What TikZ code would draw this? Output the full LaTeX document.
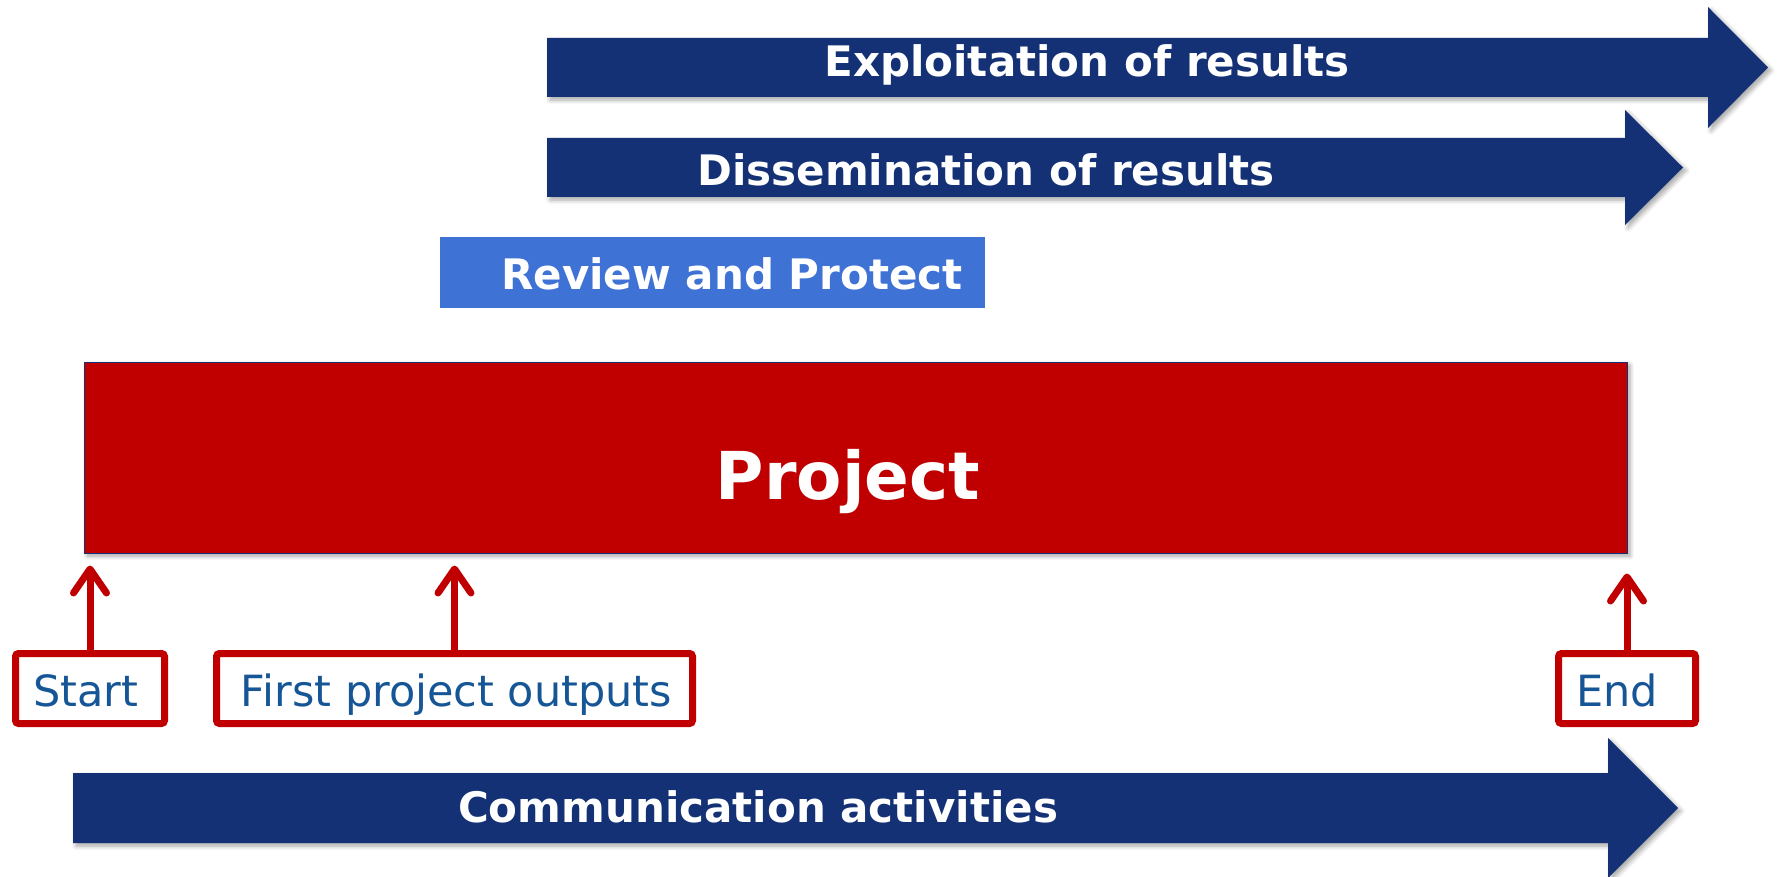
\documentclass[tikz,border=0pt]{standalone}
\usepackage{fontspec}
\setmainfont{DejaVu Sans}
\usepackage{xcolor}
\usepackage{tikz}
\usetikzlibrary{arrows.meta,positioning,shadows.blur}

\definecolor{navy}{RGB}{20,49,118}
\definecolor{midblue}{RGB}{63,114,213}
\definecolor{projred}{RGB}{192,0,0}
\definecolor{txtblue}{RGB}{22,86,150}

\begin{document}
\begin{tikzpicture}[
    x=0.5pt, y=-0.5pt,
    shade/.style={blur shadow={shadow xshift=1.5pt, shadow yshift=-1.5pt, shadow opacity=35, shadow blur steps=6}},
    bigarrow/.style={fill=navy, shade},
    bartext/.style={text=white, font=\bfseries\fontsize{21}{25}\selectfont, inner sep=0pt, anchor=base},
    milestone/.style={draw=projred, line width=3.5pt, rounded corners=1.5pt, fill=white, minimum height=35pt,
        text=txtblue, font=\fontsize{21.5}{26}\selectfont, inner sep=0pt, text height=18pt, text depth=0pt},
    pointer/.style={draw=projred, line width=3.5pt, -{Straight Barb[length=12pt, width=16.5pt, round]}},
]
\useasboundingbox (0,0) rectangle (1777,877);

% Arrows of the results
\fill[bigarrow] (547,38) -- (1708,38) -- (1708,7) -- (1768,67.5) -- (1708,128) -- (1708,97) -- (547,97) -- cycle;
\node[bartext] (exploit) at (1087,77) {Exploitation of results};
\fill[bigarrow] (547,138) -- (1625,138) -- (1625,110) -- (1683,167.5) -- (1625,225) -- (1625,197) -- (547,197) -- cycle;
\node[bartext] (dissem) at (986,186) {Dissemination of results};

% Review
\node[fill=midblue, minimum width=272.5pt, minimum height=35.5pt, inner sep=0pt] (review) at (712.5,272.5) {};
\node[bartext] (reviewtxt) at (732,290) {Review and Protect};

% Project
\node[fill=projred, draw=navy, line width=0.5pt, minimum width=771.5pt, minimum height=95.5pt, inner sep=0pt, shade] (project) at (855.5,457.5) {};
\node[bartext, font=\bfseries\fontsize{33}{38}\selectfont] (projtxt) at (848,499) {Project};

% Milestones
\node[milestone, minimum width=74.5pt] (start) at (90,688.5) {Start\kern4pt};
\node[milestone, minimum width=238pt] (first) at (454.5,688.5) {\kern2pt First project outputs};
\node[milestone, minimum width=68.5pt] (end) at (1627,688.5) {End\kern10pt};

\draw[pointer, shorten >=6pt] (start.north) -- (start.north |- project.south);
\draw[pointer, shorten >=6pt] (first.north) -- (first.north |- project.south);
\draw[pointer, shorten >=10pt] (end.north) -- (end.north |- project.south);

% Communication
\fill[bigarrow] (73,773) -- (1608,773) -- (1608,738) -- (1678,808) -- (1608,878) -- (1608,843) -- (73,843) -- cycle;
\node[bartext] (comm) at (758,822) {Communication activities};

\end{tikzpicture}
\end{document}
